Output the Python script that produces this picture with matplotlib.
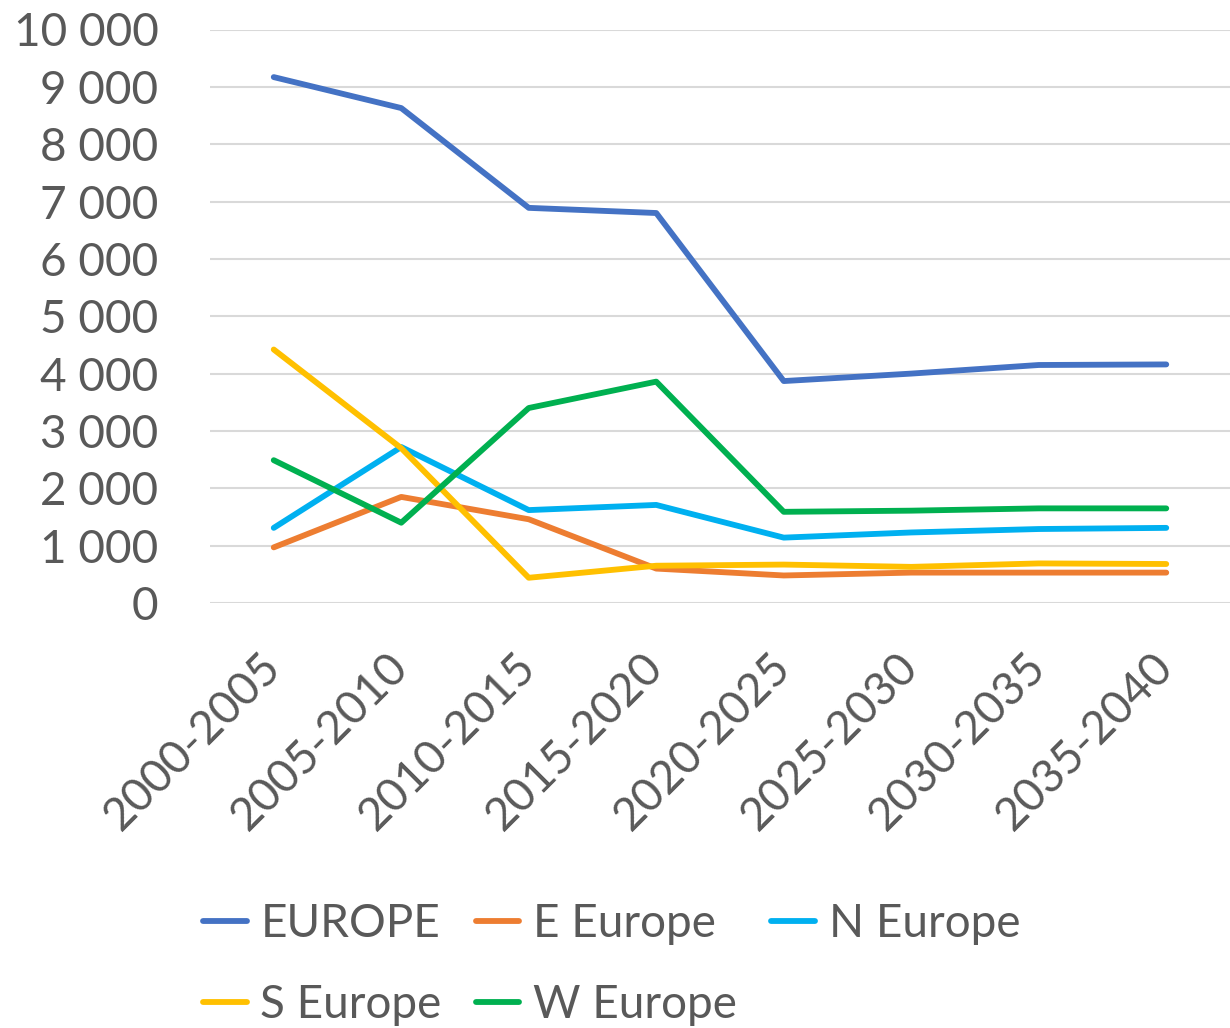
import matplotlib
matplotlib.use("Agg")
import matplotlib.pyplot as plt
import numpy as np

categories = ["2000-2005", "2005-2010", "2010-2015", "2015-2020",
              "2020-2025", "2025-2030", "2030-2035", "2035-2040"]
europe   = [9170, 8630, 6890, 6800, 3870, 4000, 4150, 4160]
e_europe = [970, 1850, 1460, 600, 480, 530, 530, 530]
n_europe = [1310, 2720, 1620, 1710, 1140, 1230, 1290, 1310]
s_europe = [4420, 2700, 440, 650, 670, 630, 690, 680]
w_europe = [2490, 1400, 3400, 3860, 1590, 1610, 1650, 1650]

series_names = ["EUROPE", "E Europe", "N Europe", "S Europe", "W Europe"]
series_vals = [europe, e_europe, n_europe, s_europe, w_europe]
colors = ["#4472C4", "#ED7D31", "#00B0F0", "#FFC000", "#00B050"]

plt.rcParams['font.family'] = ['Lato', 'DejaVu Sans']
txt = "#595959"

fig = plt.figure(figsize=(12.3, 10.28), dpi=100)
ax = fig.add_axes([210/1230, 1-603/1028, 1-210/1230, (603-29.5)/1028])

x = np.arange(len(categories))
handles = []
for name, vals, c in zip(series_names, series_vals, colors):
    h, = ax.plot(x, vals, color=c, lw=4.2, solid_capstyle='round',
                 solid_joinstyle='round', label=name, zorder=3)
    handles.append(h)

ax.set_xlim(-0.5, len(categories) - 0.5)
ax.set_ylim(0, 10000)
yt = np.arange(0, 10001, 1000)
ax.set_yticks(yt)
ax.set_yticklabels([f"{v:,}".replace(",", " ") for v in yt])
ax.set_xticks(x)
ax.set_xticklabels(categories, rotation=45, ha='right', va='center',
                   rotation_mode='anchor')
ax.grid(axis='y', color='#D9D9D9', lw=1.5, zorder=0)
for s in ax.spines.values():
    s.set_visible(False)
ax.tick_params(axis='both', length=0, labelsize=33, colors=txt)
ax.tick_params(axis='y', pad=37)
ax.tick_params(axis='x', pad=41)

order = [0, 3, 1, 4, 2]
leg = fig.legend([handles[i] for i in order], [series_names[i] for i in order],
                 ncol=3, loc='upper left', bbox_to_anchor=(203/1230, 1-903/1028),
                 frameon=False, fontsize=33, handlelength=0.95, handletextpad=0.3,
                 columnspacing=0.75, labelspacing=0.85, borderaxespad=0, borderpad=0)
for t in leg.get_texts():
    t.set_color(txt)

fig.savefig("out.png", dpi=100)
